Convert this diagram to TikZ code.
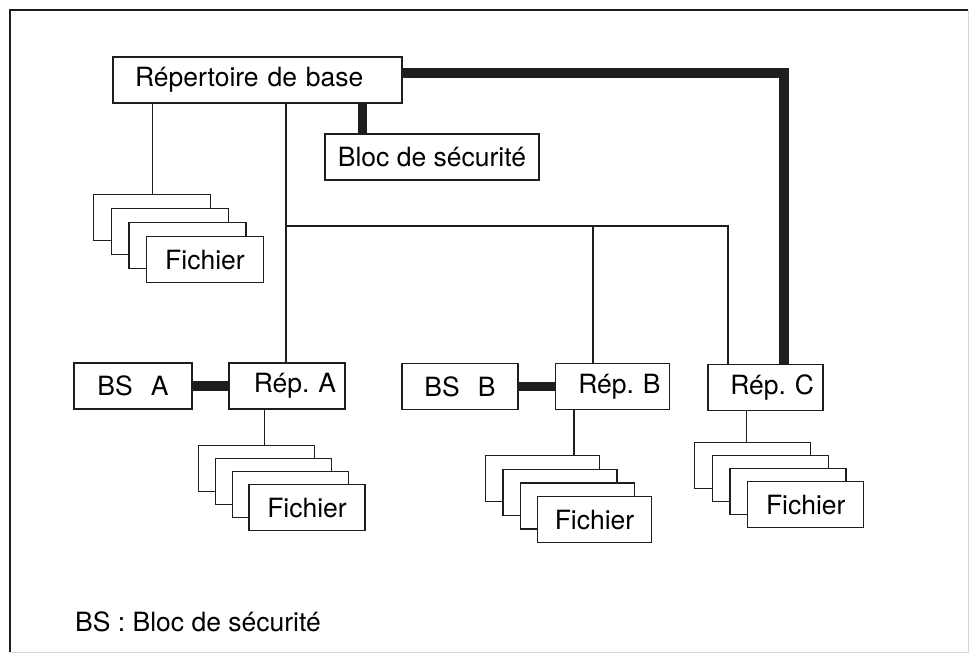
\documentclass[tikz,border=0pt]{standalone}
\usepackage{fontspec}
\setmainfont{TeX Gyre Heros}
\usetikzlibrary{calc}
\definecolor{trait}{HTML}{1E1E1E}
\definecolor{pale}{HTML}{D8D8D8}
\tikzset{
  boite/.style={draw=trait,fill=white,line width=1.3pt,minimum height=46,inner ysep=0pt,font=\fontsize{26.5}{30}\selectfont\frenchspacing},
  rep/.style={boite,inner xsep=9pt,text width=#1-18pt,align=right},
  lien/.style={draw=trait,line width=1.3pt},
  epais/.style={draw=trait,line width=9.5pt}
}
\begin{document}
\begin{tikzpicture}[x=1pt,y=-1pt]
    \useasboundingbox (0,0) rectangle (970,657);
    % cadre
    \draw[pale,line width=1pt] (968,10) -- (968,652) -- (10,652);
    \draw[trait,line width=1.2pt] (968,10) -- (10,10) -- (10,652);
    % fichiers (piles de 4)
    \foreach \nom/\x/\y/\w/\dx/\dy in {fb/93/194/117/17.6/14,fa/198/445/116/16.8/13,fB/485/455/114/17.3/13.7,fc/694/442/116/17.7/13}{
      \foreach \i in {0,...,3}
        \node[boite,minimum width=\w,anchor=north west] (\nom\i) at (\x+\i*\dx,\y+\i*\dy) {\ifnum\i=3 Fichier\fi};
    }
    \node[boite,inner xsep=22pt,text width=245,align=left] (base) at (257.5,80) {Répertoire de base};
    \node[boite,minimum width=214] (bloc) at (432,157) {Bloc de sécurité};
    \node[boite,minimum width=118] (bsA) at (133,386) {BS\hspace{18pt}A};
    \node[rep=116] (repA) at (287,386) {Rép. A};
    \node[boite,minimum width=116] (bsB) at (460,386.5) {BS\hspace{18pt}B};
    \node[rep=114] (repB) at (612.5,386.5) {Rép. B};
    \node[rep=115] (repC) at (765.5,387.5) {Rép. C};
    \coordinate (bus) at (286,226);
    % liens
    \draw[lien] ([xshift=40]base.south west) -- ([xshift=40]base.south west |- fb0.north);
    \draw[lien] (base.south -| bus) -- (repA.north -| bus);
    \draw[lien] (bus) -| ([xshift=-37.5]repC.north);
    \draw[lien] ([xshift=-19.5]repB.north) -- ([xshift=-19.5]repB.north |- bus);
    \draw[lien] ([xshift=36]repA.south west) -- ([xshift=36]repA.south west |- fa0.north);
    \draw[lien] ([xshift=19]repB.south west) -- ([xshift=19]repB.south west |- fB0.north);
    \draw[lien] ([xshift=39]repC.south west) -- ([xshift=39]repC.south west |- fc0.north);
    % blocs de securite
    \draw[epais] ([yshift=7]base.east) -| ([xshift=18.5]repC.north);
    \draw[epais] ([xshift=38]bloc.north west) -- ([xshift=38]bloc.north west |- base.south);
    \draw[epais] (bsA.east) -- (repA.west);
    \draw[epais] (bsB.east) -- (repB.west);
    \node[anchor=west,inner sep=0pt,font=\fontsize{26.5}{30}\selectfont] (legende) at (75,622) {BS : Bloc de sécurité};
  \end{tikzpicture}
\end{document}
